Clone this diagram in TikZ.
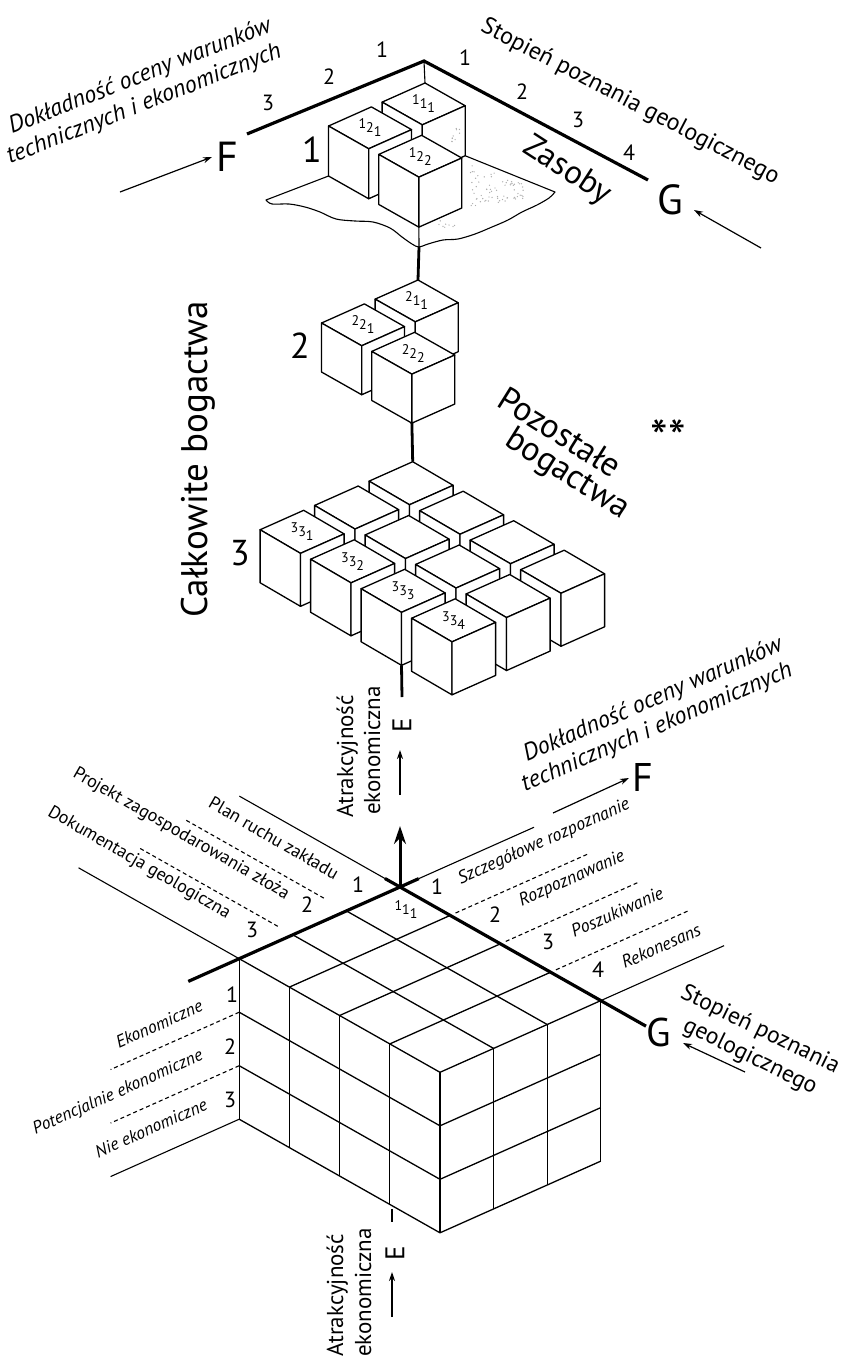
\documentclass[tikz,border=0pt]{standalone}
\usepackage{fontspec}
\setmainfont{PT Sans}
\usetikzlibrary{arrows.meta}
\tikzset{
  thinln/.style={line width=1.1pt},
  dashln/.style={line width=1.1pt, dash pattern=on 4pt off 3pt},
  thickax/.style={line width=3.2pt},
  conn/.style={line width=2.8pt},
  cubeln/.style={line width=1.3pt, line join=round},
  arr/.style={line width=1.2pt, -{Stealth[length=9pt,width=6pt]}},
  txt/.style={inner sep=0pt, font=\fontsize{#1}{#1}\selectfont},
  itx/.style={inner sep=0pt, font=\fontsize{#1}{#1}\selectfont\itshape},
  cubelab/.style={inner sep=0pt, font=\fontsize{14}{14}\selectfont},
  grp1/.style={shift={(425,83)}, x={(-53.6pt,-23.9pt)}, y={(50.2pt,-28.4pt)}, z={(0pt,-1pt)}},
  grp2/.style={shift={(418,280)}, x={(-53.6pt,-23.9pt)}, y={(50.2pt,-28.4pt)}, z={(0pt,-1pt)}},
  grp3/.style={shift={(412.7,461.7)}, x={(-54.5pt,-24.3pt)}, y={(50.5pt,-29.5pt)}, z={(0pt,-1pt)}},
  bigc/.style={shift={(400,887)}, x={(-53.6pt,-23.9pt)}, y={(50.2pt,-28.4pt)}, z={(0pt,-53.5pt)}}
}
\newcommand{\cl}[3]{\raisebox{4pt}{#1}#2\raisebox{-4pt}{#3}}
\newcommand{\grcube}[4]{%
  \filldraw[cubeln,fill=white] (#1,#2,0) -- (#1+0.8,#2,0) -- (#1+0.8,#2+0.8,0) -- (#1,#2+0.8,0) -- cycle;
  \filldraw[cubeln,fill=white] (#1+0.8,#2,0) -- (#1+0.8,#2+0.8,0) -- (#1+0.8,#2+0.8,\cubeh) -- (#1+0.8,#2,\cubeh) -- cycle;
  \filldraw[cubeln,fill=white] (#1,#2+0.8,0) -- (#1+0.8,#2+0.8,0) -- (#1+0.8,#2+0.8,\cubeh) -- (#1,#2+0.8,\cubeh) -- cycle;
  \coordinate (#3-t) at (#1,#2,0);
  \coordinate (#3-f) at (#1+0.8,#2+0.8,\cubeh);
  \node[cubelab] (#3) at (#1+0.4,#2+0.4,0) {#4};}
\begin{document}
\begin{tikzpicture}[x=1pt,y=-1pt]
\useasboundingbox (0,0) rectangle (847,1358);
\fill[white] (0,0) rectangle (847,1358);

%% ================= TOP GROUP =================
\coordinate (T) at (424,61);
\coordinate (TF) at (247,134);
\coordinate (TG) at (648,180);
\draw[thickax] (TF) -- (T) -- (TG);

\node[txt=22] (tf1) at (382,50) {1};
\node[txt=22] (tf2) at (329,77) {2};
\node[txt=22] (tf3) at (268,103) {3};
\node[txt=22] (tg1) at (465,58) {1};
\node[txt=22] (tg2) at (522,92) {2};
\node[txt=22] (tg3) at (578,120) {3};
\node[txt=22] (tg4) at (629,153) {4};

\node[itx=24, rotate=21.5, anchor=base west] (tdok1) at (12,134) {Dokładność oceny warunków};
\node[itx=24, rotate=21.5, anchor=base west] (tdok2) at (10,164) {technicznych i ekonomicznych};
\node[txt=24, rotate=-27.5] (tstop) at (630,102) {Stopień poznania geologicznego};

\node[txt=42] (Ftop) at (227,157) {F};
\node[txt=42] (Gtop) at (670,200) {G};
\coordinate (Fa1) at (120,192); \coordinate (Fa2) at (212,157);
\coordinate (Ga1) at (761,248); \coordinate (Ga2) at (694,210);
\draw[arr] (Fa1) -- (Fa2);
\draw[arr] (Ga1) -- (Ga2);

\node[txt=33, rotate=-33] (zas) at (567,171) {Zasoby};
\node[txt=36] (n1) at (312,150) {1};

\def\cubeh{50}
\begin{scope}[grp1]
  \coordinate (pl1) at (1.8,0,\cubeh);
  \coordinate (pl2) at (0,0.8,\cubeh);
\end{scope}
\draw[thinln, line join=round] (pl1) -- plot[smooth, tension=0.55] coordinates {(266,200) (272,204) (289,204) (305,207) (320,212) (336,219) (355,221) (373,222) (390,228) (402,237) (412,244) (419,247) (428,244) (443,240) (458,239) (475,234) (492,227) (508,220) (522,212) (537,205) (549,198) (555,192)} -- (pl2);
\draw[thinln] (T) -- (425,83);
\begin{scope}[grp1]
  \grcube{0}{0}{c111}{\cl{1}{1}{1}}
  \grcube{1}{0}{c121}{\cl{1}{2}{1}}
  \grcube{1}{1}{c122}{\cl{1}{2}{2}}
\end{scope}
\pgfmathsetseed{12}
\foreach \i in {1,...,70}{
  \pgfmathsetmacro\rx{470+55*rnd}
  \pgfmathsetmacro\ry{163+0.4*(\rx-470)+(44-0.55*(\rx-470))*rnd}
  \fill[gray!65] (\rx,\ry) circle (0.7pt);
}
\foreach \i in {1,...,10}{
  \pgfmathsetmacro\rx{448+13*rnd}
  \pgfmathsetmacro\ry{127+15*rnd}
  \fill[gray!65] (\rx,\ry) circle (0.7pt);
}
\foreach \i in {1,...,8}{
  \pgfmathsetmacro\rx{438+18*rnd}
  \pgfmathsetmacro\ry{219+9*rnd}
  \fill[gray!65] (\rx,\ry) circle (0.7pt);
}
\coordinate (plb) at (419,247);
\draw[thinln] (c122-f) -- (plb);

%% ================= GROUP 2 =================
\def\cubeh{49}
\begin{scope}[grp2]
  \grcube{0}{0}{c211}{\cl{2}{1}{1}}
  \grcube{1}{0}{c221}{\cl{2}{2}{1}}
  \grcube{1}{1}{c222}{\cl{2}{2}{2}}
\end{scope}
\draw[conn] (plb) -- (c211-t);
\node[txt=36] (n2) at (300,346) {2};

\node[txt=37, rotate=90, anchor=base west] (calk) at (207,618) {Całkowite bogactwa};
\node[txt=34, rotate=-32] (poz1) at (560,432) {Pozostałe};
\node[txt=34, rotate=-32] (poz2) at (567,475) {bogactwa};
\node[txt=50] (stars) at (668,438) {**};

%% ================= GROUP 3 =================
\def\cubeh{53}
\begin{scope}[grp3]
  \grcube{0}{0}{c311}{}
  \grcube{1}{0}{c321}{}
  \grcube{0}{1}{c312}{}
  \grcube{2}{0}{c331}{\cl{3}{3}{1}}
  \grcube{1}{1}{c322}{}
  \grcube{0}{2}{c313}{}
  \grcube{2}{1}{c332}{\cl{3}{3}{2}}
  \grcube{1}{2}{c323}{}
  \grcube{0}{3}{c314}{}
  \grcube{2}{2}{c333}{\cl{3}{3}{3}}
  \grcube{1}{3}{c324}{}
  \grcube{2}{3}{c334}{\cl{3}{3}{4}}
\end{scope}
\draw[conn] (c222-f) -- (c311-t);
\node[txt=36] (n3) at (240,553) {3};

\coordinate (Em) at (402,697);
\draw[conn] (c333-f) -- (Em);
\node[txt=27, rotate=90] (Emid) at (402,725) {E};
\coordinate (Ema) at (400,795); \coordinate (Emb) at (400,750);
\draw[arr] (Ema) -- (Emb);
\node[txt=23, rotate=90, anchor=base west] (atr1) at (353,818) {Atrakcyjność};
\node[txt=23, rotate=90, anchor=base west] (atr2) at (380,815) {ekonomiczna};

%% ================= BOTTOM CUBE =================
\begin{scope}[bigc]
  \coordinate (O) at (0,0,0);
  \foreach \i in {1,2,3} \draw[cubeln] (\i,0,0) -- (\i,4,0);
  \foreach \j in {1,2,3,4} \draw[cubeln] (0,\j,0) -- (3,\j,0);
  \foreach \j in {0,...,4} \draw[cubeln] (3,\j,0) -- (3,\j,3);
  \foreach \k in {1,2,3} \draw[cubeln] (3,0,\k) -- (3,4,\k);
  \foreach \i in {0,1,2} \draw[cubeln] (\i,4,0) -- (\i,4,3);
  \foreach \k in {1,2,3} \draw[cubeln] (0,4,\k) -- (3,4,\k);
  \coordinate (Fa) at (-0.35,0,0); \coordinate (Fb) at (3.95,0,0);
  \coordinate (Ga) at (0,-0.3,0); \coordinate (Gb) at (0,4.9,0);
  \coordinate (la0) at (0,-0.3,0); \coordinate (lb0) at (0,-3.2,0);
  \coordinate (la1) at (1,-0.45,0); \coordinate (lb1) at (1,-3.2,0);
  \coordinate (la2) at (2,-0.3,0); \coordinate (lb2) at (2,-3.05,0);
  \coordinate (la3) at (3,0,0); \coordinate (lb3) at (3,-3.2,0);
  \coordinate (ra0) at (-0.35,0,0); \coordinate (rb0) at (-2.5,0,0);
  \coordinate (ra1) at (-0.1,1,0); \coordinate (rb1) at (-2.6,1,0);
  \coordinate (ra2) at (-0.1,2,0); \coordinate (rb2) at (-2.6,2,0);
  \coordinate (ra3) at (-0.1,3,0); \coordinate (rb3) at (-2.6,3,0);
  \coordinate (ra4) at (0,4,0); \coordinate (rb4) at (-2.3,4,0);
  \coordinate (ea1) at (3,0,1); \coordinate (eb1) at (5.4,0,1);
  \coordinate (ea2) at (3,0,2); \coordinate (eb2) at (5.4,0,2);
  \coordinate (ea3) at (3,0,3); \coordinate (eb3) at (5.4,0,3);
\end{scope}
\draw[thickax] (Fa) -- (Fb);
\draw[thickax] (Ga) -- (Gb);
\draw[thinln] (la0) -- (lb0);
\draw[dashln] (la1) -- (lb1);
\draw[dashln] (la2) -- (lb2);
\draw[thinln] (la3) -- (lb3);
\draw[thinln] (ra0) -- (rb0);
\draw[dashln] (ra1) -- (rb1);
\draw[dashln] (ra2) -- (rb2);
\draw[dashln] (ra3) -- (rb3);
\draw[thinln] (ra4) -- (rb4);
\draw[dashln] (ea1) -- (eb1);
\draw[dashln] (ea2) -- (eb2);
\draw[thinln] (ea3) -- (eb3);

\coordinate (Otip) at (400,826);
\draw[line width=3pt, -{Stealth[length=18pt,width=12pt]}] (O) -- (Otip);
\node[cubelab] (b111) at (406,910) {\cl{1}{1}{1}};

\node[txt=18, rotate=-30] (plan) at (274,838) {Plan ruchu zakładu};
\node[txt=18, rotate=-30] (proj) at (181,834) {Projekt zagospodarowania złoża};
\node[txt=18, rotate=-30] (dokg) at (139,863) {Dokumentacja geologiczna};
\node[txt=22] (bl1) at (358,885) {1};
\node[txt=22] (bl2) at (307,905) {2};
\node[txt=22] (bl3) at (252,930) {3};
\node[itx=18, rotate=24] (szcz) at (544,842) {Szczegółowe rozpoznanie};
\node[itx=18, rotate=24] (rozp) at (572,879) {Rozpoznawanie};
\node[itx=18, rotate=24] (posz) at (617,912) {Poszukiwanie};
\node[itx=18, rotate=24] (reko) at (661,946) {Rekonesans};
\node[txt=22] (br1) at (437,887) {1};
\node[txt=22] (br2) at (495,915) {2};
\node[txt=22] (br3) at (548,942) {3};
\node[txt=22] (br4) at (598,970) {4};
\node[txt=22] (be1) at (232,995) {1};
\node[txt=22] (be2) at (230,1047) {2};
\node[txt=22] (be3) at (230,1100) {3};
\node[itx=17.5, rotate=24] (eko) at (159,1024) {Ekonomiczne};
\node[itx=17.5, rotate=24] (peko) at (118,1093) {Potencjalnie ekonomiczne};
\node[itx=17.5, rotate=24] (neko) at (151,1128) {Nie ekonomiczne};

\node[txt=40] (Fbot) at (643,777) {F};
\coordinate (Fb1) at (553,813); \coordinate (Fb2) at (629,778);
\draw[arr] (Fb1) -- (Fb2);
\node[itx=24, rotate=23.5, anchor=base west] (bdok1) at (527,762) {Dokładność oceny warunków};
\node[itx=24, rotate=23.5, anchor=base west] (bdok2) at (525,792) {technicznych i ekonomicznych};

\node[txt=40] (Gbot) at (659,1032) {G};
\coordinate (Gb1) at (745,1072); \coordinate (Gb2) at (683,1043);
\draw[arr] (Gb1) -- (Gb2);
\node[txt=23.5, rotate=-26] (bst1) at (760,1030) {Stopień poznania};
\node[txt=23.5, rotate=-26] (bst2) at (750,1057) {geologicznego};

\coordinate (Eb1) at (392,1209); \coordinate (Eb2) at (392,1222);
\draw[conn] (Eb1) -- (Eb2);
\node[txt=27, rotate=90] (Ebot) at (395,1253) {E};
\coordinate (Eb3) at (392,1317); \coordinate (Eb4) at (392,1272);
\draw[arr] (Eb3) -- (Eb4);
\node[txt=23, rotate=90, anchor=base west] (batr1) at (343,1357) {Atrakcyjność};
\node[txt=23, rotate=90, anchor=base west] (batr2) at (371,1357) {ekonomiczna};
\end{tikzpicture}
\end{document}
